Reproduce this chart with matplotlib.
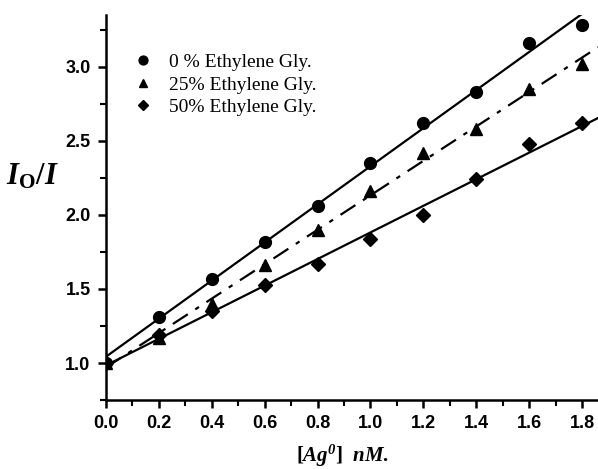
import numpy as np
import matplotlib
matplotlib.use("Agg")
import matplotlib.pyplot as plt
from matplotlib.ticker import MultipleLocator

plt.rcParams["mathtext.fontset"] = "custom"
plt.rcParams["mathtext.rm"] = "Liberation Serif"
plt.rcParams["mathtext.it"] = "Liberation Serif:italic"
plt.rcParams["mathtext.bf"] = "Liberation Serif:bold"
plt.rcParams["mathtext.bfit"] = "Liberation Serif:bold:italic"

x = [0.0, 0.2, 0.4, 0.6, 0.8, 1.0, 1.2, 1.4, 1.6, 1.8]
eg0 = [1.00, 1.31, 1.57, 1.82, 2.06, 2.35, 2.62, 2.83, 3.16, 3.28]
eg25 = [1.00, 1.17, 1.40, 1.66, 1.90, 2.16, 2.42, 2.58, 2.85, 3.02]
eg50 = [1.00, 1.19, 1.35, 1.53, 1.67, 1.84, 2.00, 2.24, 2.48, 2.62]
labels = ["0 % Ethylene Gly.", "25% Ethylene Gly.", "50% Ethylene Gly."]

fig = plt.figure(figsize=(5.98, 4.69), dpi=100)
ax = fig.add_axes([0.177, 0.147, 0.823, 0.821])

xl = np.array([0.0, 1.86])
series = [(eg0, "o", "-", 8.5), (eg25, "^", (0, (8, 4, 2, 4)), 8.5), (eg50, "D", "-", 7)]
for (y, m, ls, ms), lab in zip(series, labels):
    ax.plot(x, y, linestyle="none", marker=m, color="black", markersize=ms, label=lab)
    p = np.polyfit(x, y, 1)
    ax.plot(xl, np.polyval(p, xl), color="black", linestyle=ls, linewidth=1.6)

ax.set_xlim(0, 1.86)
ax.set_ylim(0.75, 3.35)
ax.xaxis.set_major_locator(MultipleLocator(0.2))
ax.xaxis.set_minor_locator(MultipleLocator(0.1))
ax.yaxis.set_major_locator(MultipleLocator(0.5))
ax.yaxis.set_minor_locator(MultipleLocator(0.25))
for s in ["top", "right"]:
    ax.spines[s].set_visible(False)
for s in ["left", "bottom"]:
    ax.spines[s].set_linewidth(1.8)
ax.tick_params(which="major", direction="out", length=6, width=1.8, pad=5)
ax.tick_params(which="minor", direction="out", length=4, width=1.5)
for t in ax.get_xticklabels() + ax.get_yticklabels():
    t.set_fontfamily("Liberation Sans")
    t.set_fontweight("bold")
    t.set_fontsize(13)

ax.set_xlabel(r"[$\mathbfit{Ag}^{\mathbfit{0}}$]  $\mathbfit{nM}$.", fontsize=15,
              family="Liberation Serif", fontweight="bold", va="top")
ax.xaxis.set_label_coords(0.48, -0.11)
ax.set_ylabel(r"$\mathbfit{I}_{\mathbf{O}}\mathbf{/}\mathbfit{I}$", fontsize=22,
              rotation=0, ha="center", va="center")
ax.yaxis.set_label_coords(-0.15, 0.58)

leg = ax.legend(loc="upper left", bbox_to_anchor=(0.0, 0.945), frameon=False,
                prop={"family": "Liberation Serif", "size": 14},
                handletextpad=0.35, labelspacing=0.25, markerscale=0.75,
                handlelength=2.0)

fig.savefig("out.png", dpi=100)
